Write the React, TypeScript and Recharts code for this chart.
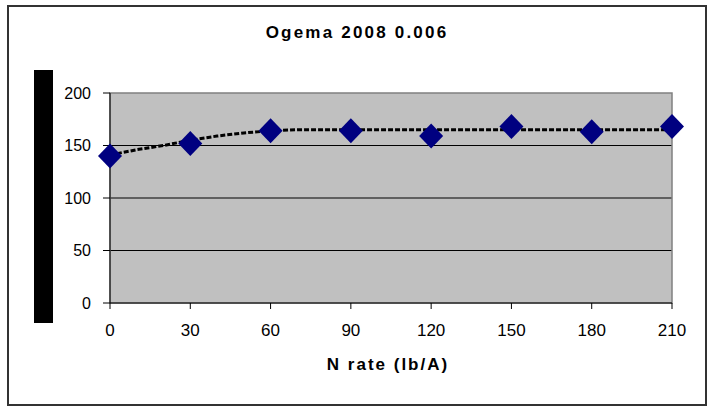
import {
  ComposedChart, Scatter, Line, XAxis, YAxis, CartesianGrid, ReferenceArea
} from 'recharts'

// N rate (lb/A) and measured yield
const nRates = [0, 30, 60, 90, 120, 150, 180, 210]
const yields = [140, 152, 164, 164, 159, 168, 163, 168]

// quadratic-plateau fit, as drawn
const fitRates = [0, 10, 20, 30, 40, 50, 60, 70, 210]
const fitYields = [141, 146, 150, 155, 159, 162, 164, 165, 165]

const xTicks = [0, 30, 60, 90, 120, 150, 180, 210]
const yTicks = [0, 50, 100, 150, 200]

const points = nRates.map((x, i) => ({ x, y: yields[i] }))
const fit = fitRates.map((x, i) => ({ x, y: fitYields[i] }))

function Diamond({ cx, cy }: any) {
  if (cx == null || cy == null) return null
  const w = 12
  const h = 12.5
  return (
    <polygon
      points={`${cx},${cy - h} ${cx + w},${cy} ${cx},${cy + h} ${cx - w},${cy}`}
      fill="#000080"
    />
  )
}

const font = 'Arial, "Liberation Sans", sans-serif'
const tickStyle = { fontSize: 16, fill: '#000', fontFamily: font }

export default function App() {
  return (
    <div style={{ position: 'absolute', left: 0, top: 0, width: 713, height: 406, background: '#fff',
      fontFamily: font }}>
      <div style={{ position: 'absolute', left: 7, top: 5, width: 696, height: 397,
        border: '2px solid #333' }} />
      <div style={{ position: 'absolute', left: 0, width: 714, top: 23, textAlign: 'center',
        fontSize: 17, fontWeight: 'bold', letterSpacing: 2.2 }}>
        Ogema 2008 0.006
      </div>
      <div style={{ position: 'absolute', left: 34, top: 70, width: 19, height: 253, background: '#000' }} />
      <div style={{ position: 'absolute', left: 0, width: 776, top: 355, textAlign: 'center',
        fontSize: 17, fontWeight: 'bold', letterSpacing: 2 }}>
        N rate (lb/A)
      </div>
      <div style={{ position: 'absolute', left: 0, top: 0 }}>
        <ComposedChart width={713} height={406}
          margin={{ top: 93, right: 41, bottom: 43, left: 50 }}>
          <CartesianGrid horizontal vertical={false} stroke="#000" fill="#C0C0C0"
            horizontalValues={[50, 100, 150]} />
          <ReferenceArea x1={0} x2={210} y1={0} y2={200} fill="none" stroke="#808080" strokeWidth={1.5} />
          <XAxis dataKey="x" type="number" domain={[0, 210]} ticks={xTicks}
            interval={0} height={60}
            stroke="#000" tickLine={{ stroke: '#000' }} tickSize={6}
            tick={{ ...tickStyle, fontSize: 17 }} tickMargin={15} />
          <YAxis type="number" domain={[0, 200]} ticks={yTicks} width={60}
            stroke="#000" tickLine={{ stroke: '#000' }} tickSize={7}
            tick={tickStyle} tickMargin={12} />
          <Line data={fit} dataKey="y" type="linear" stroke="#000" strokeWidth={3}
            strokeDasharray="5 2" dot={false} activeDot={false} isAnimationActive={false} />
          <Scatter data={points} dataKey="y" shape={<Diamond />} isAnimationActive={false} />
        </ComposedChart>
      </div>
    </div>
  )
}
